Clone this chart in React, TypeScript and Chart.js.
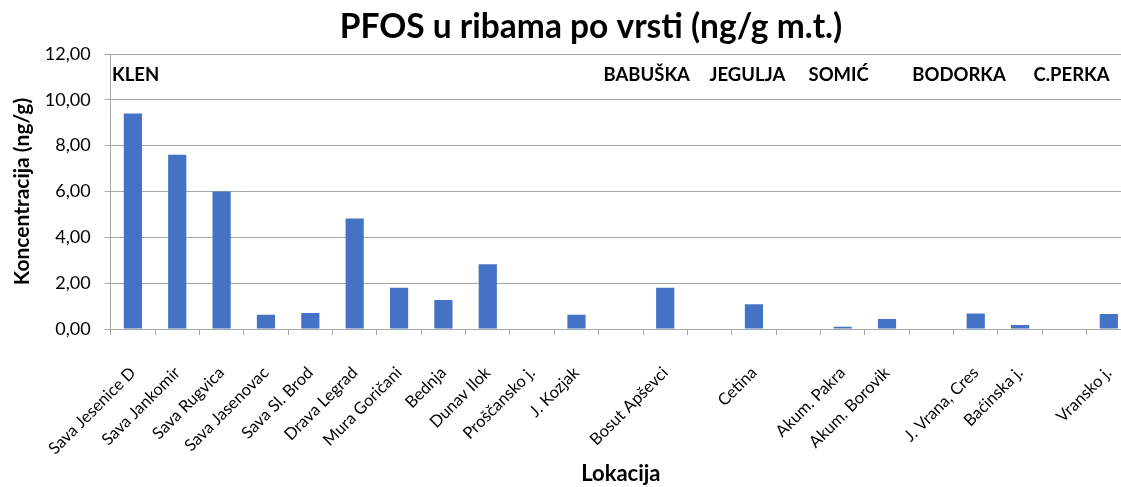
import React, { useEffect, useRef } from "react";
import { Chart, registerables } from "chart.js";

Chart.register(...registerables);

const chartTitle = "PFOS u ribama po vrsti (ng/g m.t.)";

const categories = [
  "Sava Jesenice D", "Sava Jankomir", "Sava Rugvica", "Sava Jasenovac", "Sava Sl. Brod",
  "Drava Legrad", "Mura Goričani", "Bednja", "Dunav Ilok", "Proščansko j.", "J. Kozjak",
  "", "Bosut Apševci", "", "Cetina", "", "Akum. Pakra", "Akum. Borovik", "",
  "J. Vrana, Cres", "Baćinska j.", "", "Vransko j.",
];

const pfosValues = [
  9.4, 7.6, 6.0, 0.62, 0.7, 4.82, 1.8, 1.27, 2.83, null, 0.62,
  null, 1.8, null, 1.08, null, 0.1, 0.44, null, 0.68, 0.17, null, 0.65,
];

const yTicks = [0, 2, 4, 6, 8, 10, 12];

const speciesLabels = ["KLEN", "BABUŠKA", "JEGULJA", "SOMIĆ", "BODORKA", "C.PERKA"];
const speciesPositions = [-0.47, 10.61, 13.0, 15.23, 17.57, 20.3];

const FONT = "Lato, 'Noto Sans', sans-serif";
const GRID = "#a6a6a6";

const textPlugin = {
  id: "extraText",
  afterDatasetsDraw(chart: any) {
    const { ctx, scales } = chart;
    const x = scales.x;
    ctx.save();
    ctx.fillStyle = "#000";
    // chart title
    ctx.font = `bold 33.5px ${FONT}`;
    ctx.textAlign = "center";
    ctx.textBaseline = "alphabetic";
    ctx.fillText(chartTitle, 591, 38);
    // species labels
    ctx.font = `bold 18.5px ${FONT}`;
    ctx.textAlign = "left";
    ctx.textBaseline = "middle";
    speciesLabels.forEach((t, i) => {
      ctx.fillText(t, x.getPixelForValue(speciesPositions[i]), 75);
    });
    ctx.restore();
  },
};

export default function App() {
  const ref = useRef<HTMLCanvasElement>(null);
  useEffect(() => {
    const chart = new Chart(ref.current!, {
      type: "bar",
      data: {
        labels: categories,
        datasets: [
          {
            data: pfosValues as any,
            backgroundColor: "#4472C4",
            borderWidth: 0,
            barPercentage: 0.41,
            categoryPercentage: 1,
          },
        ],
      },
      options: {
        animation: false,
        responsive: false,
        maintainAspectRatio: false,
        layout: { padding: { left: 0, right: 39, top: 54, bottom: 0 } },
        plugins: {
          legend: { display: false },
          tooltip: { enabled: false },
          title: { display: false },
        },
        scales: {
          x: {
            afterFit: (axis: any) => {
              axis.height = 158;
            },
            grid: {
              display: true,
              offset: true,
              drawOnChartArea: false,
              drawTicks: true,
              tickLength: 6,
              color: GRID,
            },
            border: { display: true, color: GRID },
            ticks: {
              autoSkip: false,
              maxRotation: 45,
              minRotation: 45,
              color: "#000",
              font: { family: FONT, size: 16.5 },
              padding: 28,
            },
            title: {
              display: true,
              text: "Lokacija",
              color: "#000",
              font: { family: FONT, size: 22, weight: "bold" },
              padding: { top: 4, bottom: 0 },
            },
          },
          y: {
            min: 0,
            max: 12,
            afterFit: (axis: any) => {
              axis.width = 110.7;
            },
            afterBuildTicks: (axis: any) => {
              axis.ticks = yTicks.map((v) => ({ value: v }));
            },
            grid: {
              color: GRID,
              drawTicks: true,
              tickLength: 6,
            },
            border: { display: true, color: GRID },
            ticks: {
              color: "#000",
              font: { family: FONT, size: 18 },
              padding: 14,
              callback: (v: any) => Number(v).toFixed(2).replace(".", ","),
            },
            title: {
              display: true,
              text: "Koncentracija (ng/g)",
              color: "#000",
              font: { family: FONT, size: 21, weight: "bold" },
              padding: { top: 10, bottom: 0 },
            },
          },
        },
      },
      plugins: [textPlugin],
    });
    return () => chart.destroy();
  }, []);

  return (
    <div
      style={{
        position: "fixed",
        left: 0,
        top: 0,
        width: 1121,
        height: 487,
        overflow: "hidden",
        background: "#fff",
      }}
    >
      <canvas ref={ref} width={1170} height={487} style={{ display: "block", width: 1170, height: 487 }} />
    </div>
  );
}
